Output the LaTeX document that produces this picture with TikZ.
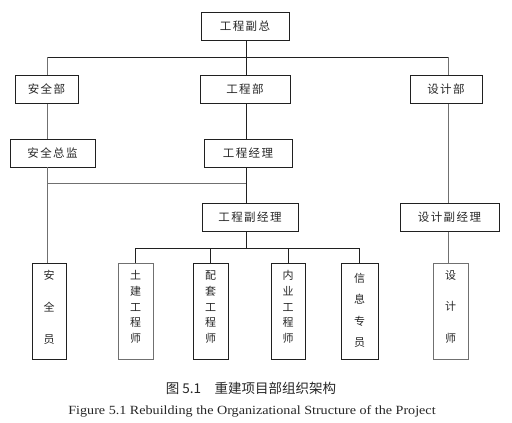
\documentclass[tikz,border=0pt]{standalone}
\usepackage{fontspec}
\setmainfont{Liberation Serif}
\newfontfamily\cjk{Noto Sans CJK SC}
\newfontfamily\cjksp[LetterSpace=12]{Noto Sans CJK SC}
\definecolor{lgray}{HTML}{707070}
\definecolor{dline}{HTML}{202020}
\newcommand\vtxt[4]{\parbox[b][96pt][t]{#1}{\centering\fontsize{11}{#3}\selectfont\rule{0pt}{#2}#4\par}}
\tikzset{
  box/.style={draw=dline, line width=0.8pt, inner sep=0pt, font=\cjksp\fontsize{11.5}{13}\selectfont, text=black!85},
  hbox/.style={box, minimum height=27.5pt},
  vbox/.style={box, anchor=north, font=\cjk},
  dk/.style={draw=dline, line width=0.7pt},
  lt/.style={draw=lgray, line width=0.7pt},
}
\begin{document}
\begin{tikzpicture}[x=1pt,y=-1pt]
\useasboundingbox (0,0) rectangle (512,423);
\node[hbox, minimum width=88pt, minimum height=28pt] (top) at (245,26) {工程副总};
\node[hbox, minimum width=63pt] (aqb) at (46.5,89.5) {安全部};
\node[hbox, minimum width=90pt] (gcb) at (245,89.5) {工程部};
\node[hbox, minimum width=72pt] (sjb) at (446,89.5) {设计部};
\node[hbox, minimum width=85pt, minimum height=28pt] (aqzj) at (52.5,153) {安全总监};
\node[hbox, minimum width=88pt, minimum height=28pt] (gcjl) at (248,153) {工程经理};
\node[hbox, minimum width=96pt] (gcfjl) at (250,217.5) {工程副经理};
\node[hbox, minimum width=99pt] (sjfjl) at (449.5,217.5) {设计副经理};
\node[vbox] (aqy) at (49,263) {\vtxt{34pt}{16pt}{32pt}{安\\全\\员}};
\node[vbox, draw=lgray] (tj) at (135.5,263) {\vtxt{35pt}{16pt}{15.8pt}{土\\建\\工\\程\\师}};
\node[vbox] (pt) at (210.5,263) {\vtxt{35pt}{16pt}{15.8pt}{配\\套\\工\\程\\师}};
\node[vbox] (ny) at (288,263) {\vtxt{34pt}{16pt}{15.8pt}{内\\业\\工\\程\\师}};
\node[vbox] (xx) at (359.5,263) {\vtxt{37pt}{19pt}{21.5pt}{信\\息\\专\\员}};
\node[vbox, draw=lgray] (sjs) at (450.5,263) {\vtxt{35pt}{16pt}{31.5pt}{设\\计\\师}};
% top bus
\coordinate (busL) at (47,57);
\coordinate (busM) at (246,57);
\coordinate (busR) at (448,57);
\draw[dk] (top.south -| busM) -- (busM);
\draw[dk] (busL) -- (busR);
\draw[lt] (busL) -- (aqb.north -| busL);
\draw[dk] (busM) -- (gcb.north -| busM);
\draw[lt] (busR) -- (sjb.north -| busR);
% safety column
\draw[lt] (aqb.south -| busL) -- (aqzj.north -| busL);
\draw[lt] (aqzj.south -| busL) -- (aqy.north -| busL);
% engineering column
\draw[dk] (gcb.south -| busM) -- (gcjl.north -| busM);
\draw[dk] (gcjl.south -| busM) -- (gcfjl.north -| busM);
\coordinate (j) at (246,183);
\draw[lt] (busL |- j) -- (j);
% design column
\draw[lt] (sjb.south -| busR) -- (sjfjl.north -| busR);
\draw[lt] (sjfjl.south -| busR) -- (sjs.north -| busR);
% bottom bus
\coordinate (b2) at (246,248);
\draw[dk] (gcfjl.south -| b2) -- (b2);
\draw[dk] (tj.north |- b2) -- (xx.north |- b2);
\draw[dk] (tj.north |- b2) -- (tj.north);
\draw[dk] (pt.north |- b2) -- (pt.north);
\draw[dk] (ny.north |- b2) -- (ny.north);
\draw[dk] (xx.north |- b2) -- (xx.north);
% captions
\node[font=\cjk\fontsize{13.5}{15}\selectfont, text=black!85] (cap1) at (251,388) {图 5.1\quad 重建项目部组织架构};
\node[font=\fontsize{12.5}{14}\selectfont, text=black!85] (cap2) at (252,411) {\scalebox{1.13}[1]{Figure 5.1 Rebuilding the Organizational Structure of the Project}};
\end{tikzpicture}
\end{document}
